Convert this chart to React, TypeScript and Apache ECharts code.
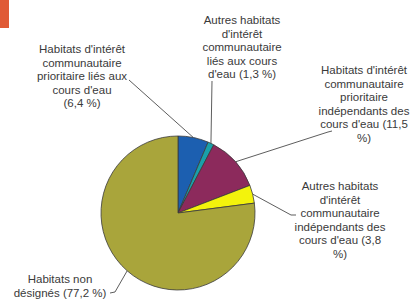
import React, { useEffect, useRef } from "react";
import * as echarts from "echarts";

const categories = [
  "Habitats d'intérêt\ncommunautaire\nprioritaire liés aux\ncours d'eau\n(6,4 %)",
  "Autres habitats\nd'intérêt\ncommunautaire\nliés aux cours\nd'eau (1,3 %)",
  "Habitats d'intérêt\ncommunautaire\nprioritaire\nindépendants des\ncours d'eau (11,5\n%)",
  "Autres habitats\nd'intérêt\ncommunautaire\nindépendants des\ncours d'eau (3,8\n%)",
  "Habitats non\ndésignés (77,2 %)",
];
const values = [6.4, 1.3, 11.5, 3.8, 77.2];
const colors = ["#1c5fb0", "#1aa0aa", "#8c2a5c", "#f3f30c", "#a9a53b"];

// label anchor positions (layout only)
const labelPos = [
  { x: 82, y: 76, line: [[129, 80]] },
  { x: 242, y: 47, line: [[212, 81]] },
  { x: 364, y: 104, line: [[328, 132], [332, 131]] },
  { x: 340, y: 220, line: [[291, 215], [296, 215]] },
  { x: 60, y: 286, line: [[115, 292], [110, 293]] },
];

export default function App() {
  const ref = useRef<HTMLDivElement>(null);
  useEffect(() => {
    if (!ref.current) return;
    const chart = echarts.init(ref.current, undefined, { renderer: "svg" });
    chart.setOption({
      animation: false,
      backgroundColor: "#ffffff",
      graphic: [
        {
          type: "rect",
          left: 0,
          top: 0,
          shape: { width: 9, height: 28 },
          style: { fill: "#e05a35" },
        },
      ],
      series: [
        {
          type: "pie",
          center: [178, 213],
          radius: 77,
          startAngle: 90,
          clockwise: true,
          avoidLabelOverlap: false,
          itemStyle: { borderColor: "#3a3a3a", borderWidth: 0.8 },
          label: {
            show: true,
            position: "outside",
            formatter: (p: any) => p.name,
            fontFamily: "Liberation Sans, Arial, sans-serif",
            fontSize: 11.5,
            lineHeight: 13.5,
            color: "#3a3a3a",
            align: "center",
          },
          labelLine: {
            show: true,
            length: 10,
            length2: 10,
            lineStyle: { color: "#333333", width: 0.8 },
          },
          labelLayout: (params: any) => {
            const pos = labelPos[params.dataIndex];
            const start = params.labelLinePoints
              ? params.labelLinePoints[0]
              : [0, 0];
            return {
              x: pos.x,
              y: pos.y,
              align: "center",
              verticalAlign: "middle",
              labelLinePoints: [start, ...pos.line],
            };
          },
          data: values.map((v, i) => ({
            value: v,
            name: categories[i],
            itemStyle: { color: colors[i] },
          })),
        },
      ],
    });
    return () => chart.dispose();
  }, []);
  return (
    <div
      ref={ref}
      style={{ position: "absolute", left: 0, top: 0, width: 418, height: 299 }}
    />
  );
}
